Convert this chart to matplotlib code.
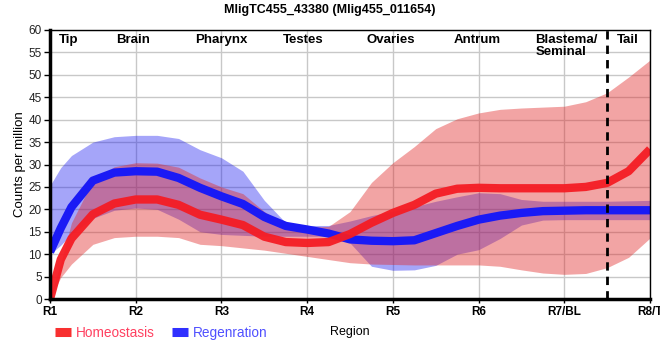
import matplotlib
matplotlib.use("Agg")
import matplotlib.pyplot as plt
from matplotlib.lines import Line2D

plt.rcParams['font.family'] = ['Liberation Sans', 'DejaVu Sans']

# region positions (R1 = 0 ... R8/T = 7), sampled every quarter region
pos = [0, 0.125, 0.25, 0.5, 0.75, 1.0, 1.25, 1.5, 1.75, 2.0, 2.25, 2.5, 2.75, 3.0,
       3.25, 3.5, 3.75, 4.0, 4.25, 4.5, 4.75, 5.0, 5.25, 5.5, 5.75, 6.0, 6.25,
       6.5, 6.75, 7.0]

hom_mean = [0, 8.8, 13.5, 18.9, 21.3, 22.2, 22.2, 21.0, 18.8, 17.7, 16.5, 13.9,
            12.7, 12.5, 12.7, 14.5, 17.0, 19.2, 21.0, 23.5, 24.6, 24.8, 24.7,
            24.7, 24.7, 24.7, 25.0, 25.9, 28.5, 33.4]
hom_hi = [0.5, 8.0, 17.0, 26.5, 29.5, 30.4, 30.3, 29.4, 27.0, 25.0, 23.5, 19.5,
          16.5, 16.0, 16.2, 19.5, 26.0, 30.4, 34.0, 38.0, 40.2, 41.5, 42.3, 42.6,
          42.8, 43.0, 44.0, 46.0, 49.5, 53.3]
hom_lo = [0, 4.8, 7.8, 12.2, 13.7, 14.0, 14.0, 13.7, 12.2, 11.9, 11.4, 10.9,
          10.2, 9.5, 8.8, 8.1, 7.8, 7.7, 7.6, 7.6, 7.6, 7.6, 7.3, 6.5, 5.8, 5.5,
          5.7, 7.0, 9.3, 13.6]

reg_mean = [10.5, 15.8, 20.5, 26.4, 28.2, 28.5, 28.4, 27.0, 24.8, 22.9, 21.2,
            18.3, 16.3, 15.5, 14.6, 13.3, 13.0, 12.9, 13.1, 14.7, 16.3, 17.7,
            18.6, 19.2, 19.6, 19.7, 19.8, 19.8, 19.8, 19.8]
reg_hi = [25.3, 29.3, 32.0, 35.0, 36.2, 36.5, 36.5, 35.8, 33.3, 31.5, 28.5, 22.0,
          17.0, 16.4, 16.4, 17.4, 18.6, 19.6, 20.6, 21.8, 22.8, 23.7, 23.5, 22.2,
          21.8, 21.8, 21.8, 21.8, 21.9, 22.0]
reg_lo = [10.0, 12.0, 14.5, 18.0, 19.8, 20.3, 20.0, 17.8, 15.0, 14.4, 14.2, 14.0,
          14.0, 14.0, 14.0, 12.5, 7.3, 6.4, 6.5, 7.5, 10.0, 11.0, 13.5, 16.5,
          17.6, 17.7, 17.7, 17.7, 17.7, 17.7]

region_ticks = ["R1", "R2", "R3", "R4", "R5", "R6", "R7/BL", "R8/T"]
organ_names = ["Tip", "Brain", "Pharynx", "Testes", "Ovaries", "Antrum",
               "Blastema/\nSeminal", "Tail"]
organ_pos = [0.22, 0.97, 2.0, 2.95, 3.98, 4.98, 5.66, 6.74]

fig = plt.figure(figsize=(6.6, 3.6), dpi=100)
ax = fig.add_axes([0.0758, 0.1694, 0.9091, 0.7473])

# regeneration first, so the homeostasis band tints it purple
ax.fill_between(pos, reg_lo, reg_hi, color="#1414f0", alpha=0.38, lw=0)
ax.plot(pos, reg_mean, color="#1a1af5", lw=6, solid_capstyle="butt")
ax.fill_between(pos, hom_lo, hom_hi, color="#e02828", alpha=0.42, lw=0)
ax.plot(pos, hom_mean, color="#f51c24", lw=6, alpha=0.95, solid_capstyle="butt")

ax.axvline(6.5, color="black", lw=2, ls=(0, (3, 2.2)))

ax.set_xlim(0, 7)
ax.set_ylim(0, 60)
ax.set_yticks(range(0, 61, 5))
ax.set_xticks(range(8))
ax.set_xticklabels(region_ticks, fontsize=8.5, fontweight="bold")
ax.tick_params(axis="y", labelsize=8.5, length=4, width=1, pad=2, labelcolor="#222222")
ax.tick_params(axis="x", length=3, width=1, pad=2)
ax.grid(True, color="#c8c8c8", lw=1)
ax.set_axisbelow(True)

for side in ["left", "bottom"]:
    ax.spines[side].set_linewidth(2.5)
for side in ["top", "right"]:
    ax.spines[side].set_linewidth(1)

for name, x in zip(organ_names, organ_pos):
    ha = "left" if "/" in name else "center"
    ax.text(x, 59, name, ha=ha, va="top", fontsize=9.5, fontweight="bold",
            linespacing=0.95)

ax.set_ylabel("Counts per million", fontsize=9.5, labelpad=2)
ax.set_xlabel("Region", fontsize=9, labelpad=6)
fig.suptitle("MligTC455_43380 (Mlig455_011654)", fontsize=9, fontweight="bold",
             y=0.99)

handles = [Line2D([], [], color="#f83030", lw=6.5, solid_capstyle="butt"),
           Line2D([], [], color="#3030ff", lw=6.5, solid_capstyle="butt")]
fig.legend(handles, ["Homeostasis", "Regenration"], loc="lower left",
           bbox_to_anchor=(0.065, 0.022), ncol=2, frameon=False, fontsize=9.8,
           handlelength=1.2, handletextpad=0.3, columnspacing=1.3,
           labelcolor=["#ff4060", "#5050ff"])

fig.savefig("out.png", dpi=100)
